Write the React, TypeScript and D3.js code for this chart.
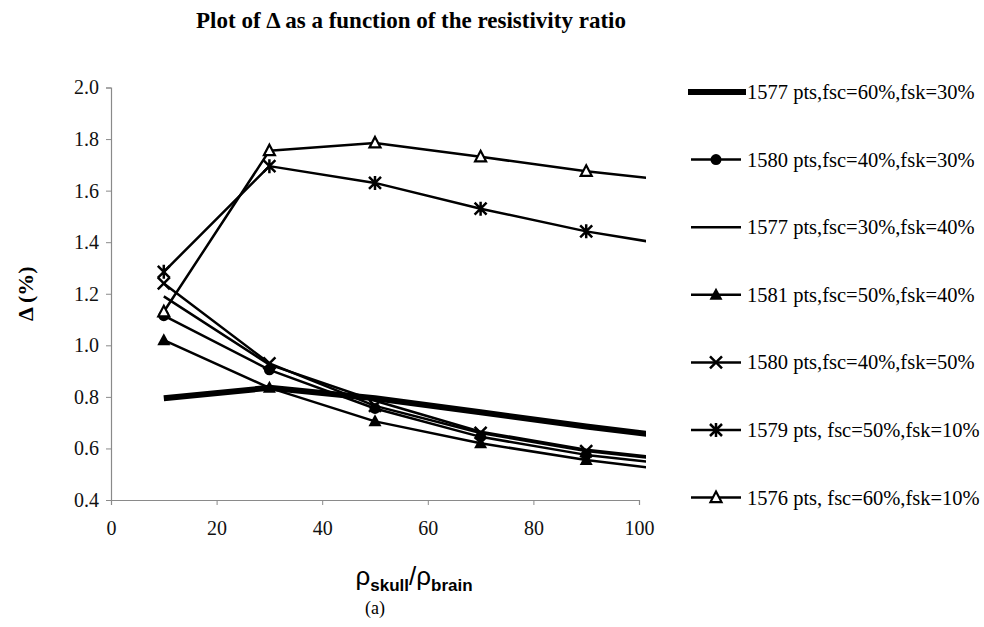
import React, { useEffect, useRef } from 'react';
import * as d3 from 'd3';

// resistivity ratio (last point lies past the axis end and gets clipped)
const ratios = [10, 30, 50, 70, 90, 110];

const delta1577a = [0.795, 0.835, 0.795, 0.74, 0.685, 0.635];
const delta1580a = [1.115, 0.905, 0.755, 0.645, 0.575, 0.53];
const delta1577b = [1.19, 0.925, 0.785, 0.665, 0.595, 0.55];
const delta1581 = [1.02, 0.835, 0.705, 0.62, 0.555, 0.505];
const delta1580b = [1.24, 0.93, 0.765, 0.66, 0.59, 0.545];
const delta1579 = [1.285, 1.695, 1.63, 1.53, 1.442, 1.375];
const delta1576 = [1.13, 1.755, 1.785, 1.731, 1.675, 1.63];

const seriesLabels = [
  '1577 pts,fsc=60%,fsk=30%',
  '1580 pts,fsc=40%,fsk=30%',
  '1577 pts,fsc=30%,fsk=40%',
  '1581 pts,fsc=50%,fsk=40%',
  '1580 pts,fsc=40%,fsk=50%',
  '1579 pts, fsc=50%,fsk=10%',
  '1576 pts, fsc=60%,fsk=10%',
];

const xTicks = [0, 20, 40, 60, 80, 100];
const yTicks = [0.4, 0.6, 0.8, 1.0, 1.2, 1.4, 1.6, 1.8, 2.0];

type Marker = 'none' | 'circle' | 'triangle' | 'opentriangle' | 'x' | 'star';

const series: { label: string; values: number[]; marker: Marker; width: number }[] = [
  { label: seriesLabels[0], values: delta1577a, marker: 'none', width: 6 },
  { label: seriesLabels[1], values: delta1580a, marker: 'circle', width: 2.5 },
  { label: seriesLabels[2], values: delta1577b, marker: 'none', width: 2.5 },
  { label: seriesLabels[3], values: delta1581, marker: 'triangle', width: 2.5 },
  { label: seriesLabels[4], values: delta1580b, marker: 'x', width: 2.5 },
  { label: seriesLabels[5], values: delta1579, marker: 'star', width: 2.5 },
  { label: seriesLabels[6], values: delta1576, marker: 'opentriangle', width: 2.5 },
];

const serif = '"Liberation Serif", "Times New Roman", serif';
const sans = '"Liberation Sans", Arial, sans-serif';

const drawMarker = (
  g: d3.Selection<SVGGElement, unknown, null, undefined>,
  type: Marker,
  cx: number,
  cy: number,
) => {
  if (type === 'circle') {
    g.append('circle').attr('cx', cx).attr('cy', cy).attr('r', 5.5).attr('fill', '#000');
  } else if (type === 'triangle') {
    g.append('path')
      .attr('d', `M${cx},${cy - 7}L${cx + 6.5},${cy + 5}L${cx - 6.5},${cy + 5}Z`)
      .attr('fill', '#000');
  } else if (type === 'opentriangle') {
    g.append('path')
      .attr('d', `M${cx},${cy - 6}L${cx + 5.5},${cy + 4.5}L${cx - 5.5},${cy + 4.5}Z`)
      .attr('fill', '#fff')
      .attr('stroke', '#000')
      .attr('stroke-width', 2.2);
  } else if (type === 'x') {
    g.append('path')
      .attr('d', `M${cx - 6},${cy - 6}L${cx + 6},${cy + 6}M${cx - 6},${cy + 6}L${cx + 6},${cy - 6}`)
      .attr('stroke', '#000')
      .attr('stroke-width', 2.5);
  } else if (type === 'star') {
    g.append('path')
      .attr(
        'd',
        `M${cx - 6},${cy - 6}L${cx + 6},${cy + 6}M${cx - 6},${cy + 6}L${cx + 6},${cy - 6}M${cx},${cy - 7}L${cx},${cy + 7}`,
      )
      .attr('stroke', '#000')
      .attr('stroke-width', 2.5);
  }
};

const App = () => {
  const ref = useRef<SVGSVGElement>(null);

  useEffect(() => {
    const width = 984;
    const height = 627;
    const plot = { left: 111, right: 639, top: 87.5, bottom: 500 };

    const svg = d3.select(ref.current);
    svg.selectAll('*').remove();

    const x = d3.scaleLinear().domain([0, 100]).range([plot.left, plot.right]);
    const y = d3.scaleLinear().domain([0.4, 2.0]).range([plot.bottom, plot.top]);

    svg
      .append('text')
      .attr('x', 411)
      .attr('y', 28)
      .attr('text-anchor', 'middle')
      .attr('font-family', serif)
      .attr('font-weight', 'bold')
      .attr('font-size', 23)
      .text('Plot of \u0394 as a function of the resistivity ratio');

    // axes
    const yAxis = svg
      .append('g')
      .attr('transform', `translate(${plot.left},0)`)
      .call(
        d3
          .axisLeft(y)
          .tickValues(yTicks)
          .tickSize(5)
          .tickPadding(7)
          .tickFormat((d) => d3.format('.1f')(d as number)),
      );
    yAxis.select('.domain').attr('stroke', '#8a8a8a').attr('stroke-width', 1.2);
    yAxis.selectAll('.tick line').attr('stroke', '#8a8a8a');
    yAxis
      .selectAll('.tick text')
      .attr('font-family', serif)
      .attr('font-size', 20)
      .attr('fill', '#111');

    const xAxis = svg
      .append('g')
      .attr('transform', `translate(0,${plot.bottom})`)
      .call(d3.axisBottom(x).tickValues(xTicks).tickSize(5).tickPadding(16));
    xAxis.select('.domain').attr('stroke', '#8a8a8a').attr('stroke-width', 1.2);
    xAxis.selectAll('.tick line').attr('stroke', '#8a8a8a');
    xAxis
      .selectAll('.tick text')
      .attr('font-family', serif)
      .attr('font-size', 20)
      .attr('fill', '#111');

    svg
      .append('text')
      .attr('transform', `translate(33,${(plot.top + plot.bottom) / 2}) rotate(-90)`)
      .attr('text-anchor', 'middle')
      .attr('font-family', serif)
      .attr('font-weight', 'bold')
      .attr('font-size', 22)
      .text('\u0394 (%)');

    const xt = svg
      .append('text')
      .attr('x', 414)
      .attr('y', 585)
      .attr('text-anchor', 'middle')
      .attr('font-family', sans)
      .attr('font-size', 26);
    xt.append('tspan').text('\u03c1');
    xt.append('tspan')
      .attr('font-size', 17)
      .attr('font-weight', 'bold')
      .attr('dy', 6)
      .text('skull');
    xt.append('tspan').attr('dy', -6).text('/\u03c1');
    xt.append('tspan')
      .attr('font-size', 17)
      .attr('font-weight', 'bold')
      .attr('dy', 6)
      .text('brain');

    svg
      .append('text')
      .attr('x', 375)
      .attr('y', 614)
      .attr('text-anchor', 'middle')
      .attr('font-family', serif)
      .attr('font-size', 18)
      .text('(a)');

    // series
    svg
      .append('clipPath')
      .attr('id', 'plot-clip')
      .append('rect')
      .attr('x', plot.left)
      .attr('y', plot.top - 20)
      .attr('width', plot.right - plot.left + 7)
      .attr('height', plot.bottom - plot.top + 40);

    const plotG = svg.append('g').attr('clip-path', 'url(#plot-clip)');
    const line = d3
      .line<number>()
      .x((_, i) => x(ratios[i]))
      .y((d) => y(d));

    series.forEach((s) => {
      plotG
        .append('path')
        .attr('d', line(s.values))
        .attr('fill', 'none')
        .attr('stroke', '#000')
        .attr('stroke-width', s.width)
        .attr('stroke-linejoin', 'round');
    });
    series.forEach((s) => {
      if (s.marker === 'none') return;
      s.values.forEach((v, i) => {
        if (ratios[i] > 100) return;
        drawMarker(plotG, s.marker, x(ratios[i]), y(v));
      });
    });

    // legend
    const legend = svg.append('g');
    series.forEach((s, i) => {
      const cy = 92 + i * 67.6;
      const row = legend.append('g');
      row
        .append('line')
        .attr('x1', s.width > 3 ? 688 : 691)
        .attr('x2', s.width > 3 ? 746 : 741)
        .attr('y1', cy)
        .attr('y2', cy)
        .attr('stroke', '#000')
        .attr('stroke-width', s.width);
      drawMarker(row, s.marker, 716, cy);
      row
        .append('text')
        .attr('x', 747)
        .attr('y', cy + 7)
        .attr('font-family', serif)
        .attr('font-size', 20.5)
        .text(s.label);
    });

    svg.attr('width', width).attr('height', height);
  }, []);

  return (
    <svg
      ref={ref}
      width={984}
      height={627}
      style={{ position: 'absolute', left: 0, top: 0, background: '#fff' }}
    />
  );
};

export default App;
